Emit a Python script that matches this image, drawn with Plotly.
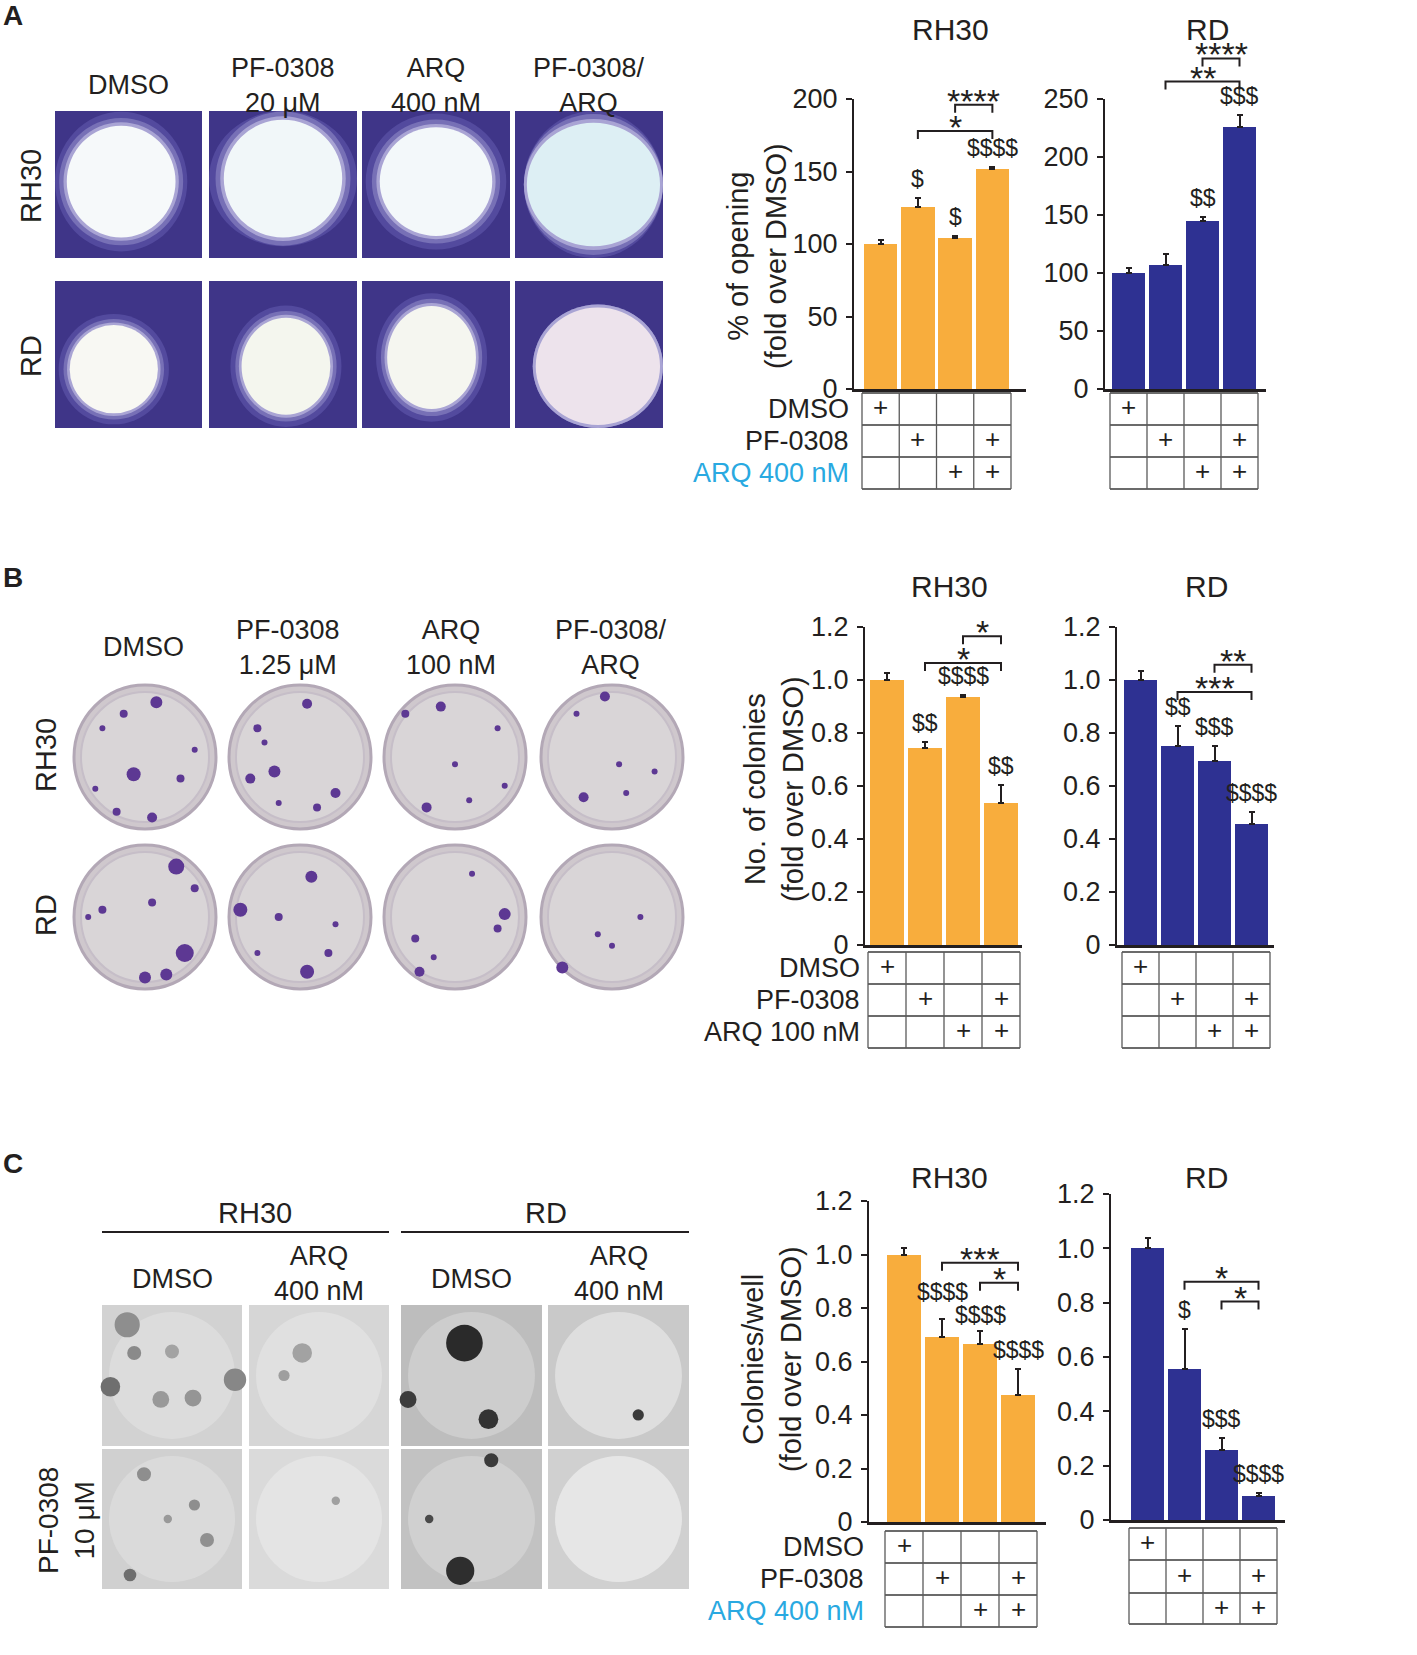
import plotly.graph_objects as go

W, H = 1417, 1655
FONT = 'Liberation Sans, Arial, sans-serif'
INK = '#231F20'
ORANGE = '#F8AD3D'
BLUE = '#2E3192'
CYAN = '#29A9E1'

###############################################################################
# data
###############################################################################
treatments_ac = ['DMSO', 'PF-0308', 'ARQ 400 nM']
treatments_b = ['DMSO', 'PF-0308', 'ARQ 100 nM']
plus_matrix = [[1, 0, 0, 0],
               [0, 1, 0, 1],
               [0, 0, 1, 1]]

a_rh30_mean = [100, 125.5, 104, 151.5]
a_rh30_err = [3, 6, 1.5, 1.3]
a_rd_mean = [100, 106.5, 144.5, 226]
a_rd_err = [4.5, 9.5, 4, 10]

b_rh30_mean = [1.0, 0.745, 0.935, 0.535]
b_rh30_err = [0.025, 0.02, 0.01, 0.07]
b_rd_mean = [1.0, 0.752, 0.695, 0.458]
b_rd_err = [0.035, 0.075, 0.055, 0.045]

c_rh30_mean = [1.0, 0.69, 0.667, 0.474]
c_rh30_err = [0.025, 0.068, 0.048, 0.097]
c_rd_mean = [1.0, 0.556, 0.258, 0.087]
c_rd_err = [0.038, 0.148, 0.043, 0.012]

a_rh30_dollar = ['', '$', '$', '$$$$']
a_rd_dollar = ['', '', '$$', '$$$']
b_rh30_dollar = ['', '$$', '$$$$', '$$']
b_rd_dollar = ['', '$$', '$$$', '$$$$']
c_rh30_dollar = ['', '$$$$', '$$$$', '$$$$']
c_rd_dollar = ['', '$', '$$$', '$$$$']

# (from bar, to bar, bracket height in data units, stars)
a_rh30_brackets = [(1, 3, 178, '*'), (2, 3, 196, '****')]
a_rd_brackets = [(1, 3, 265, '**'), (2, 3, 285, '****')]
b_rh30_brackets = [(1, 3, 1.064, '*'), (2, 3, 1.165, '*')]
b_rd_brackets = [(1, 3, 0.955, '***'), (2, 3, 1.058, '**')]
c_rh30_brackets = [(1, 3, 0.969, '***'), (2, 3, 0.894, '*')]
c_rd_brackets = [(1, 3, 0.877, '*'), (2, 3, 0.804, '*')]

ticks_a_rh30 = [0, 50, 100, 150, 200]
ticks_a_rd = [0, 50, 100, 150, 200, 250]
ticks_fold = [0, 0.2, 0.4, 0.6, 0.8, 1.0, 1.2]
ticks_fold_text = ['0', '0.2', '0.4', '0.6', '0.8', '1.0', '1.2']

###############################################################################
# layout geometry of the six bar charts (pixels)
###############################################################################
charts = [
    dict(mean=a_rh30_mean, err=a_rh30_err, dollar=a_rh30_dollar, br=a_rh30_brackets,
         color=ORANGE, vmax=200, tv=ticks_a_rh30, tt=[str(t) for t in ticks_a_rh30],
         axis_x=854, line_r=1026, tab_l=862, tab_r=1011, y_top=99, y_zero=389,
         rows=[393, 425, 457, 489], title='RH30', tpos=(950, 30),
         labels=treatments_ac, label_colors=[INK, INK, CYAN], dshift={}),
    dict(mean=a_rd_mean, err=a_rd_err, dollar=a_rd_dollar, br=a_rd_brackets,
         color=BLUE, vmax=250, tv=ticks_a_rd, tt=[str(t) for t in ticks_a_rd],
         axis_x=1105, line_r=1266, tab_l=1110, tab_r=1258, y_top=99, y_zero=389,
         rows=[393, 425, 457, 489], title='RD', tpos=(1207, 30),
         labels=None, dshift={}),
    dict(mean=b_rh30_mean, err=b_rh30_err, dollar=b_rh30_dollar, br=b_rh30_brackets,
         color=ORANGE, vmax=1.2, tv=ticks_fold, tt=ticks_fold_text,
         axis_x=865, line_r=1022, tab_l=868, tab_r=1020, y_top=627, y_zero=945,
         rows=[952, 984, 1016, 1048], title='RH30', tpos=(949, 587),
         labels=treatments_b, label_colors=[INK, INK, INK], dshift={}),
    dict(mean=b_rd_mean, err=b_rd_err, dollar=b_rd_dollar, br=b_rd_brackets,
         color=BLUE, vmax=1.2, tv=ticks_fold, tt=ticks_fold_text,
         axis_x=1117, line_r=1274, tab_l=1122, tab_r=1270, y_top=627, y_zero=945,
         rows=[952, 984, 1016, 1048], title='RD', tpos=(1206, 587),
         labels=None, dshift={}),
    dict(mean=c_rh30_mean, err=c_rh30_err, dollar=c_rh30_dollar, br=c_rh30_brackets,
         color=ORANGE, vmax=1.2, tv=ticks_fold, tt=ticks_fold_text,
         axis_x=869, line_r=1046, tab_l=885, tab_r=1037, y_top=1201, y_zero=1522,
         rows=[1531, 1563, 1595, 1627], title='RH30', tpos=(949, 1177),
         labels=treatments_ac, label_colors=[INK, INK, CYAN], dshift={1: 8, 2: -3}),
    dict(mean=c_rd_mean, err=c_rd_err, dollar=c_rd_dollar, br=c_rd_brackets,
         color=BLUE, vmax=1.2, tv=ticks_fold, tt=ticks_fold_text,
         axis_x=1111, line_r=1285, tab_l=1129, tab_r=1277, y_top=1194, y_zero=1520,
         rows=[1528, 1560, 1593, 1624], title='RD', tpos=(1206, 1177),
         labels=None, dshift={}),
]

shapes = []
annotations = []


def fx(x):
    return x / W


def fy(y):
    return 1 - y / H


def text(x, y, s, size=27, color=INK, xanchor='center', yanchor='middle', angle=0, bold=False):
    annotations.append(dict(
        x=fx(x), y=fy(y), xref='paper', yref='paper', text=('<b>%s</b>' % s) if bold else s,
        showarrow=False, xanchor=xanchor, yanchor=yanchor, textangle=angle,
        font=dict(family=FONT, size=size, color=color)))


def line(x0, y0, x1, y1, color=INK, width=2):
    shapes.append(dict(type='line', xref='paper', yref='paper', x0=fx(x0), y0=fy(y0),
                       x1=fx(x1), y1=fy(y1), line=dict(color=color, width=width)))


def rect(x0, y0, x1, y1, fill):
    shapes.append(dict(type='rect', xref='paper', yref='paper', x0=fx(x0), x1=fx(x1),
                       y0=fy(y1), y1=fy(y0), fillcolor=fill, line=dict(width=0), layer='below'))


def ellipse(cx, cy, rx, ry, fill='rgba(0,0,0,0)', lcolor=None, lw=0):
    shapes.append(dict(type='circle', xref='paper', yref='paper', x0=fx(cx - rx), x1=fx(cx + rx),
                       y0=fy(cy + ry), y1=fy(cy - ry), fillcolor=fill,
                       line=dict(width=lw, color=lcolor or fill), layer='below'))


###############################################################################
# bar charts
###############################################################################
fig = go.Figure()
layout_axes = {}

for i, g in enumerate(charts, start=1):
    cw = (g['tab_r'] - g['tab_l']) / 4
    xr = [-0.5 - (g['tab_l'] - g['axis_x']) / cw, 3.5 + (g['line_r'] - g['tab_r']) / cw]
    xname = 'x' if i == 1 else 'x%d' % i
    yname = 'y' if i == 1 else 'y%d' % i

    fig.add_trace(go.Bar(
        x=[0, 1, 2, 3], y=g['mean'], width=0.9, marker=dict(color=g['color'], line=dict(width=0)),
        error_y=dict(type='data', symmetric=False, array=g['err'], arrayminus=[0, 0, 0, 0],
                     color=INK, thickness=2, width=3),
        xaxis=xname, yaxis=yname, showlegend=False, hoverinfo='skip'))

    layout_axes['xaxis' if i == 1 else 'xaxis%d' % i] = dict(
        domain=[fx(g['axis_x']), fx(g['line_r'])], range=xr, anchor=yname, automargin=False,
        showline=True, linecolor=INK, linewidth=3, showticklabels=False, ticks='',
        showgrid=False, zeroline=False, fixedrange=True)
    layout_axes['yaxis' if i == 1 else 'yaxis%d' % i] = dict(
        domain=[fy(g['y_zero']), fy(g['y_top'])], range=[0, g['vmax']], anchor=xname,
        automargin=False,
        showline=True, linecolor=INK, linewidth=2, ticks='outside', ticklen=6, tickwidth=2,
        tickcolor=INK, tickvals=g['tv'], ticktext=g['tt'], ticklabelstandoff=3,
        tickfont=dict(family=FONT, size=27, color=INK),
        showgrid=False, zeroline=False, fixedrange=True)

    def bx(k):
        return g['tab_l'] + (k + 0.5) * cw

    def by(v):
        return g['y_zero'] - v / g['vmax'] * (g['y_zero'] - g['y_top'])

    # title
    text(g['tpos'][0], g['tpos'][1], g['title'], size=30)

    # $ labels above error bars
    for k, s in enumerate(g['dollar']):
        if s:
            y = by(g['mean'][k] + g['err'][k]) - 4 - g['dshift'].get(k, 0)
            text(bx(k), y, s, size=23, yanchor='bottom')

    # significance brackets
    for a, b, lev, stars in g['br']:
        yl = by(lev)
        shapes.append(dict(type='path', xref='paper', yref='paper',
                           path='M %f %f L %f %f L %f %f L %f %f' % (
                               fx(bx(a)), fy(yl + 8), fx(bx(a)), fy(yl),
                               fx(bx(b)), fy(yl), fx(bx(b)), fy(yl + 8)),
                           line=dict(color=INK, width=2)))
        text((bx(a) + bx(b)) / 2, yl - 4, stars, size=34, yanchor='middle')

    # treatment table
    rows = g['rows']
    for r in rows:
        line(g['tab_l'], r, g['tab_r'], r, color='#3a3a3a', width=1.6)
    for c in range(5):
        xc = g['tab_l'] + c * cw
        line(xc, rows[0], xc, rows[-1], color='#5a5a5a', width=1.3)
    for r in range(3):
        yc = (rows[r] + rows[r + 1]) / 2
        for k in range(4):
            if plus_matrix[r][k]:
                text(bx(k), yc - 2, '+', size=26)
        if g['labels']:
            text(g['axis_x'] - 3, yc, g['labels'][r], size=27,
                 color=g['label_colors'][r], xanchor='right')

# y-axis titles
text(757, 256, '% of opening<br>(fold over DMSO)', size=29, angle=-90)
text(774, 789, 'No. of colonies<br>(fold over DMSO)', size=29, angle=-90)
text(772, 1359, 'Colonies/well<br>(fold over DMSO)', size=29, angle=-90)

###############################################################################
# panel letters and picture panels (drawn as simple placeholders)
###############################################################################
text(1, 16, 'A', size=28, bold=True, xanchor='left')
text(1, 577, 'B', size=28, bold=True, xanchor='left')
text(1, 1163, 'C', size=28, bold=True, xanchor='left')

# ---- A: wound-opening photos
a_cols = [(55, 202), (209, 357), (362, 510), (515, 663)]
a_rows = [(111, 258), (281, 428)]
a_heads = ['DMSO', 'PF-0308<br>20 μM', 'ARQ<br>400 nM', 'PF-0308/<br>ARQ']
for (x0, x1), h in zip(a_cols, a_heads):
    text((x0 + x1) / 2, 85, h, size=27)
text(31, 186, 'RH30', size=29, angle=-90)
text(31, 356, 'RD', size=29, angle=-90)

# opening centre / radius as fraction of the picture, and its tint
a_open = [[(0.45, 0.48, 0.37, 0.38, '#F6F9FA'), (0.5, 0.46, 0.4, 0.4, '#F1F7F9'),
           (0.5, 0.48, 0.38, 0.37, '#F3F8FA'), (0.53, 0.5, 0.45, 0.42, '#DDEFF4')],
          [(0.4, 0.6, 0.3, 0.3, '#F8F8F3'), (0.52, 0.58, 0.3, 0.33, '#F4F6EE'),
           (0.47, 0.52, 0.3, 0.35, '#F5F6F0'), (0.56, 0.58, 0.42, 0.4, '#EDE3EC')]]
for ri, (y0, y1) in enumerate(a_rows):
    for ci, (x0, x1) in enumerate(a_cols):
        w, h = x1 - x0, y1 - y0
        rect(x0, y0, x1, y1, '#3F3588')
        cx, cy, rx, ry, tint = a_open[ri][ci]
        for sc, col in [(1.25, '#534A9E'), (1.14, '#7770B6'), (1.06, '#A9A4D4'), (1.0, tint)]:
            ex = min(rx * sc, cx, 1 - cx) * w
            ey = min(ry * sc, cy, 1 - cy) * h
            ellipse(x0 + cx * w, y0 + cy * h, ex, ey, fill=col)

# ---- B: colony dishes
b_cx = [145, 300, 455, 612]
b_cy = [757, 917]
b_heads = ['DMSO', 'PF-0308<br>1.25 μM', 'ARQ<br>100 nM', 'PF-0308/<br>ARQ']
b_head_x = [143, 288, 451, 611]
for hx, h in zip(b_head_x, b_heads):
    text(hx, 647, h, size=27)
text(46, 755, 'RH30', size=29, angle=-90)
text(46, 915, 'RD', size=29, angle=-90)
# stained colonies drawn on each dish: (x frac, y frac, radius px)
b_dots = [[[(0.58, 0.12, 6), (0.35, 0.2, 4), (0.2, 0.3, 3), (0.42, 0.62, 7), (0.75, 0.65, 4),
            (0.85, 0.45, 3), (0.3, 0.88, 4), (0.55, 0.92, 5), (0.15, 0.72, 3)],
           [(0.55, 0.13, 5), (0.2, 0.3, 4), (0.25, 0.4, 3), (0.32, 0.6, 6), (0.15, 0.65, 5),
            (0.75, 0.75, 5), (0.62, 0.85, 4), (0.35, 0.82, 3)],
           [(0.4, 0.15, 5), (0.15, 0.2, 4), (0.8, 0.3, 3), (0.5, 0.55, 3), (0.3, 0.85, 5),
            (0.6, 0.8, 3), (0.85, 0.7, 3)],
           [(0.45, 0.08, 5), (0.25, 0.2, 3), (0.55, 0.55, 3), (0.3, 0.78, 5), (0.6, 0.75, 3),
            (0.8, 0.6, 3)]],
          [[(0.72, 0.15, 8), (0.78, 0.75, 9), (0.65, 0.9, 6), (0.5, 0.92, 6), (0.2, 0.45, 4),
            (0.1, 0.5, 3), (0.55, 0.4, 4), (0.85, 0.3, 4)],
           [(0.58, 0.22, 6), (0.08, 0.45, 7), (0.35, 0.5, 4), (0.55, 0.88, 7), (0.7, 0.75, 4),
            (0.2, 0.75, 3), (0.75, 0.55, 3)],
           [(0.85, 0.48, 6), (0.22, 0.65, 4), (0.35, 0.78, 3), (0.25, 0.88, 5), (0.62, 0.2, 3),
            (0.8, 0.58, 4)],
           [(0.15, 0.85, 6), (0.4, 0.62, 3), (0.7, 0.5, 3), (0.5, 0.7, 3)]]]
for ri, cy in enumerate(b_cy):
    for ci, cx in enumerate(b_cx):
        ellipse(cx, cy, 71, 72, fill='#CFC8CD', lcolor='#B3A8B6', lw=3)
        ellipse(cx, cy, 64, 65, fill='#D9D5D7', lcolor='#C6BEC8', lw=2)
        for dx, dy, r in b_dots[ri][ci]:
            ellipse(cx - 71 + dx * 142, cy - 72 + dy * 144, r, r, fill='#5D3893')

# ---- C: soft-agar photos
c_cols = [(102, 242), (249, 389), (401, 542), (548, 689)]
c_rows = [(1305, 1446), (1449, 1589)]
text(255, 1213, 'RH30', size=29)
text(546, 1213, 'RD', size=29)
line(102, 1232, 389, 1232, width=2)
line(401, 1232, 689, 1232, width=2)
for (x0, x1), h in zip(c_cols, ['DMSO', 'ARQ<br>400 nM', 'DMSO', 'ARQ<br>400 nM']):
    text((x0 + x1) / 2, 1273 if '<br>' in h else 1279, h, size=27)
text(66, 1521, 'PF-0308<br>10 μM', size=28, angle=-90)

c_bg = [['#D2D2D2', '#D6D6D6', '#BDBDBD', '#C9C9C9'],
        ['#D0D0D0', '#DADADA', '#C2C2C2', '#D0D0D0']]
c_glow = [['#DCDCDC', '#E0E0E0', '#CDCDCD', '#DEDEDE'],
          ['#DADADA', '#E4E4E4', '#D0D0D0', '#E6E6E6']]
# a few colonies per photo: (x frac, y frac, radius frac, colour)
c_spots = [[[(0.18, 0.14, 0.09, '#8E8E8E'), (0.23, 0.34, 0.05, '#8A8A8A'), (0.06, 0.58, 0.07, '#6F6F6F'),
             (0.42, 0.67, 0.06, '#999999'), (0.65, 0.66, 0.06, '#959595'), (0.95, 0.53, 0.08, '#878787'),
             (0.5, 0.33, 0.05, '#A3A3A3')],
            [(0.38, 0.34, 0.07, '#A2A2A2'), (0.25, 0.5, 0.04, '#9E9E9E')],
            [(0.45, 0.27, 0.13, '#2A2A2A'), (0.62, 0.81, 0.07, '#333333'), (0.05, 0.67, 0.06, '#3C3C3C')],
            [(0.64, 0.78, 0.04, '#3A3A3A')]],
           [[(0.3, 0.18, 0.05, '#8E8E8E'), (0.66, 0.4, 0.04, '#8E8E8E'), (0.75, 0.65, 0.05, '#909090'),
             (0.2, 0.9, 0.045, '#6E6E6E'), (0.47, 0.5, 0.03, '#999999')],
            [(0.62, 0.37, 0.03, '#A0A0A0')],
            [(0.42, 0.87, 0.1, '#2E2E2E'), (0.64, 0.08, 0.05, '#3A3A3A'), (0.2, 0.5, 0.03, '#4A4A4A')],
            []]]
for ri, (y0, y1) in enumerate(c_rows):
    for ci, (x0, x1) in enumerate(c_cols):
        w, h = x1 - x0, y1 - y0
        rect(x0, y0, x1, y1, c_bg[ri][ci])
        ellipse(x0 + w / 2, y0 + h / 2, w * 0.45, h * 0.45, fill=c_glow[ri][ci])
        for sx, sy, sr, col in c_spots[ri][ci]:
            ellipse(x0 + sx * w, y0 + sy * h, sr * w, sr * w, fill=col)

fig.update_layout(
    template='none', autosize=False,
    width=W, height=H, margin=dict(l=0, r=0, t=0, b=0, pad=0, autoexpand=False),
    paper_bgcolor='white', plot_bgcolor='rgba(0,0,0,0)',
    shapes=shapes, annotations=annotations, bargap=0, **layout_axes)

fig.write_html('out.html', config={'displayModeBar': False},
               post_script="document.body.style.margin='0';")
